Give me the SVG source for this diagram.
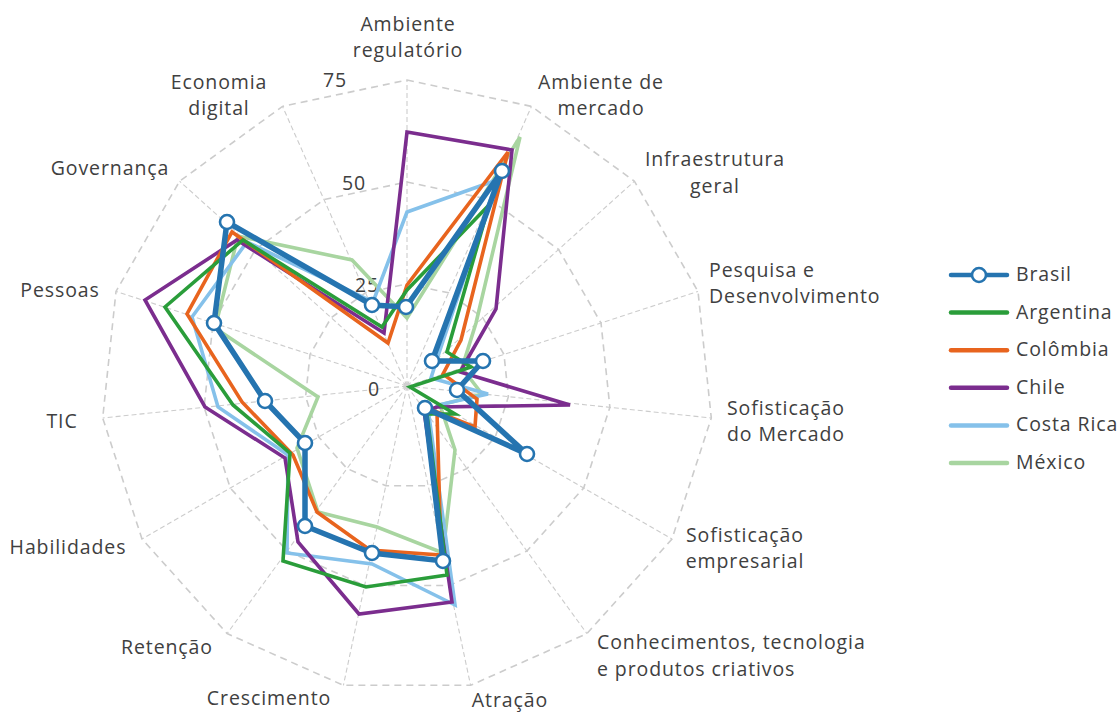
<svg xmlns="http://www.w3.org/2000/svg" width="1118" height="713" viewBox="0 0 1118 713">
<style>
.bg{fill:#ffffff}
.ring{fill:none;stroke:#cccccc;stroke-width:1.6;stroke-dasharray:7 5}
.spoke{fill:none;stroke:#cccccc;stroke-width:1.1;stroke-dasharray:5 3}
.lbl{font-family:"Open Sans","Noto Sans","Liberation Sans",sans-serif;font-size:19.5px;letter-spacing:0.9px;fill:#404040}
.mid{text-anchor:middle}
.st{text-anchor:start}
.tick{font-family:"Open Sans","Noto Sans","Liberation Sans",sans-serif;font-size:19.5px;letter-spacing:0.9px;fill:#404040;text-anchor:middle}
.s{fill:none;stroke-linejoin:miter;stroke-width:3.6}
.br{stroke:#2574b0;stroke-width:5.5}
.ar{stroke:#2a9d3a}
.co{stroke:#e8641e}
.ch{stroke:#7b2d8e}
.cr{stroke:#85c1ea}
.mx{stroke:#a8d5a0}
.mk{fill:#ffffff;stroke:#2574b0;stroke-width:2.6}
.lg{stroke-width:4.5;stroke-linecap:round;fill:none}
</style>
<defs>
<marker id="dot" viewBox="-10 -10 20 20" markerWidth="20" markerHeight="20" refX="0" refY="0" markerUnits="userSpaceOnUse">
<circle cx="0" cy="0" r="7" fill="#ffffff" stroke="#2574b0" stroke-width="2.6"/>
</marker>
</defs>
<rect class="bg" x="0" y="0" width="1118" height="713"/>
<g id="grid">
<polygon class="ring" points="407,80 531.5,106.4 634.4,181.2 698,291.4 711.3,418 672,539 586.9,633.6 470.6,685.3 343.4,685.3 227.1,633.6 142,539 102.7,418 116,291.4 179.6,181.2 282.5,106.4"/>
<polygon class="ring" points="407,182 490,199.6 558.6,249.5 601,323 609.9,407.3 583.7,488 526.9,551 449.4,585.5 364.6,585.5 287.1,551 230.3,488 204.1,407.3 213,323 255.4,249.5 324,199.6"/>
<polygon class="ring" points="407,284 448.5,292.8 482.8,317.7 504,354.5 508.4,396.7 495.3,437 467,468.5 428.2,485.8 385.8,485.8 347,468.5 318.7,437 305.6,396.7 310,354.5 331.2,317.7 365.5,292.8"/>
<path class="spoke" d="M407,386L407,80M407,386L531.5,106.4M407,386L634.4,181.2M407,386L698,291.4M407,386L711.3,418M407,386L672,539M407,386L586.9,633.6M407,386L470.6,685.3M407,386L343.4,685.3M407,386L227.1,633.6M407,386L142,539M407,386L102.7,418M407,386L116,291.4M407,386L179.6,181.2M407,386L282.5,106.4"/>
<circle cx="407" cy="386" r="3.5" fill="#d0d0d0"/>
</g>
<g id="ticks">
<text class="tick" x="335" y="87">75</text>
<text class="tick" x="354" y="190">50</text>
<text class="tick" x="367" y="292">25</text>
<text class="tick" x="374" y="396">0</text>
</g>
<g id="connectors">
<polygon id="mexico" class="s mx" points="407,318 520,137 476,323 462,368 482,394 440,405 455,450 443,553 377,527 318,512 297,448 318,397 215,328 238,236 352,260"/>
<polygon id="costa-rica" class="s cr" points="407,212 497,180 437,359 431,378 488,394 438,405 429,416 455,605 372,564 287,553 288,455 218,407 192,317 247,242 373,302"/>
<polygon id="chile" class="s ch" points="407,132 512,150 496,309 460,372 570,405 437,407 424,411 452,602 359,614 298,542 285,458 205,407 145,300 237,240 384,333"/>
<polygon id="colombia" class="s co" points="407,285 508,152 461,340 443,374 477,399 475,427 437,412 441,555 370,550 317,512 293,455 242,402 187,314 232,232 388,343"/>
<polygon id="argentina" class="s ar" points="407,290 489,205 447,352 471,367 410,387 455,414 427,414 447,575 366,587 283,561 290,453 233,405 165,307 243,240 382,327"/>
<polygon id="brasil" class="s br" points="406,307 502,171 432,361 483,361 457,390 527,454 425,408 443,561 372,553 305,526 305,443 265,401 214,323 227,222 372,305" marker-start="url(#dot)" marker-mid="url(#dot)"/>
</g>
<g id="axis-labels">
<g id="n-ambiente-regulatorio"><text class="lbl mid" x="408" y="31">Ambiente</text><text class="lbl mid" x="408" y="57">regulatório</text></g>
<g id="n-ambiente-mercado"><text class="lbl mid" x="601" y="89">Ambiente de</text><text class="lbl mid" x="601" y="115">mercado</text></g>
<g id="n-infraestrutura"><text class="lbl mid" x="715" y="166">Infraestrutura</text><text class="lbl mid" x="715" y="193">geral</text></g>
<g id="n-pesquisa"><text class="lbl st" x="709" y="277">Pesquisa e</text><text class="lbl st" x="709" y="303">Desenvolvimento</text></g>
<g id="n-sof-mercado"><text class="lbl mid" x="786" y="415">Sofisticação</text><text class="lbl mid" x="786" y="441">do Mercado</text></g>
<g id="n-sof-empresarial"><text class="lbl mid" x="745" y="542">Sofisticação</text><text class="lbl mid" x="745" y="568">empresarial</text></g>
<g id="n-conhecimentos"><text class="lbl st" x="597" y="649">Conhecimentos, tecnologia</text><text class="lbl st" x="597" y="676">e produtos criativos</text></g>
<g id="n-atracao"><text class="lbl mid" x="510" y="707">Atração</text></g>
<g id="n-crescimento"><text class="lbl mid" x="269" y="705">Crescimento</text></g>
<g id="n-retencao"><text class="lbl mid" x="167" y="654">Retenção</text></g>
<g id="n-habilidades"><text class="lbl mid" x="68" y="554">Habilidades</text></g>
<g id="n-tic"><text class="lbl mid" x="62" y="428">TIC</text></g>
<g id="n-pessoas"><text class="lbl mid" x="60" y="297">Pessoas</text></g>
<g id="n-governanca"><text class="lbl mid" x="110" y="175">Governança</text></g>
<g id="n-economia-digital"><text class="lbl mid" x="219" y="89">Economia</text><text class="lbl mid" x="219" y="115">digital</text></g>
</g>
<g id="legend">
<g id="lg-brasil"><path class="lg" d="M951,275H1007" stroke="#2574b0"/><circle class="mk" cx="979" cy="275" r="7"/><text class="lbl st" x="1016" y="281">Brasil</text></g>
<g id="lg-argentina"><path class="lg" d="M951,312.6H1007" stroke="#2a9d3a"/><text class="lbl st" x="1016" y="318.6">Argentina</text></g>
<g id="lg-colombia"><path class="lg" d="M951,350.2H1007" stroke="#e8641e"/><text class="lbl st" x="1016" y="356.2">Colômbia</text></g>
<g id="lg-chile"><path class="lg" d="M951,387.8H1007" stroke="#7b2d8e"/><text class="lbl st" x="1016" y="393.8">Chile</text></g>
<g id="lg-costa-rica"><path class="lg" d="M951,425.4H1007" stroke="#85c1ea"/><text class="lbl st" x="1016" y="431.4">Costa Rica</text></g>
<g id="lg-mexico"><path class="lg" d="M951,463H1007" stroke="#a8d5a0"/><text class="lbl st" x="1016" y="469">México</text></g>
</g>
</svg>
